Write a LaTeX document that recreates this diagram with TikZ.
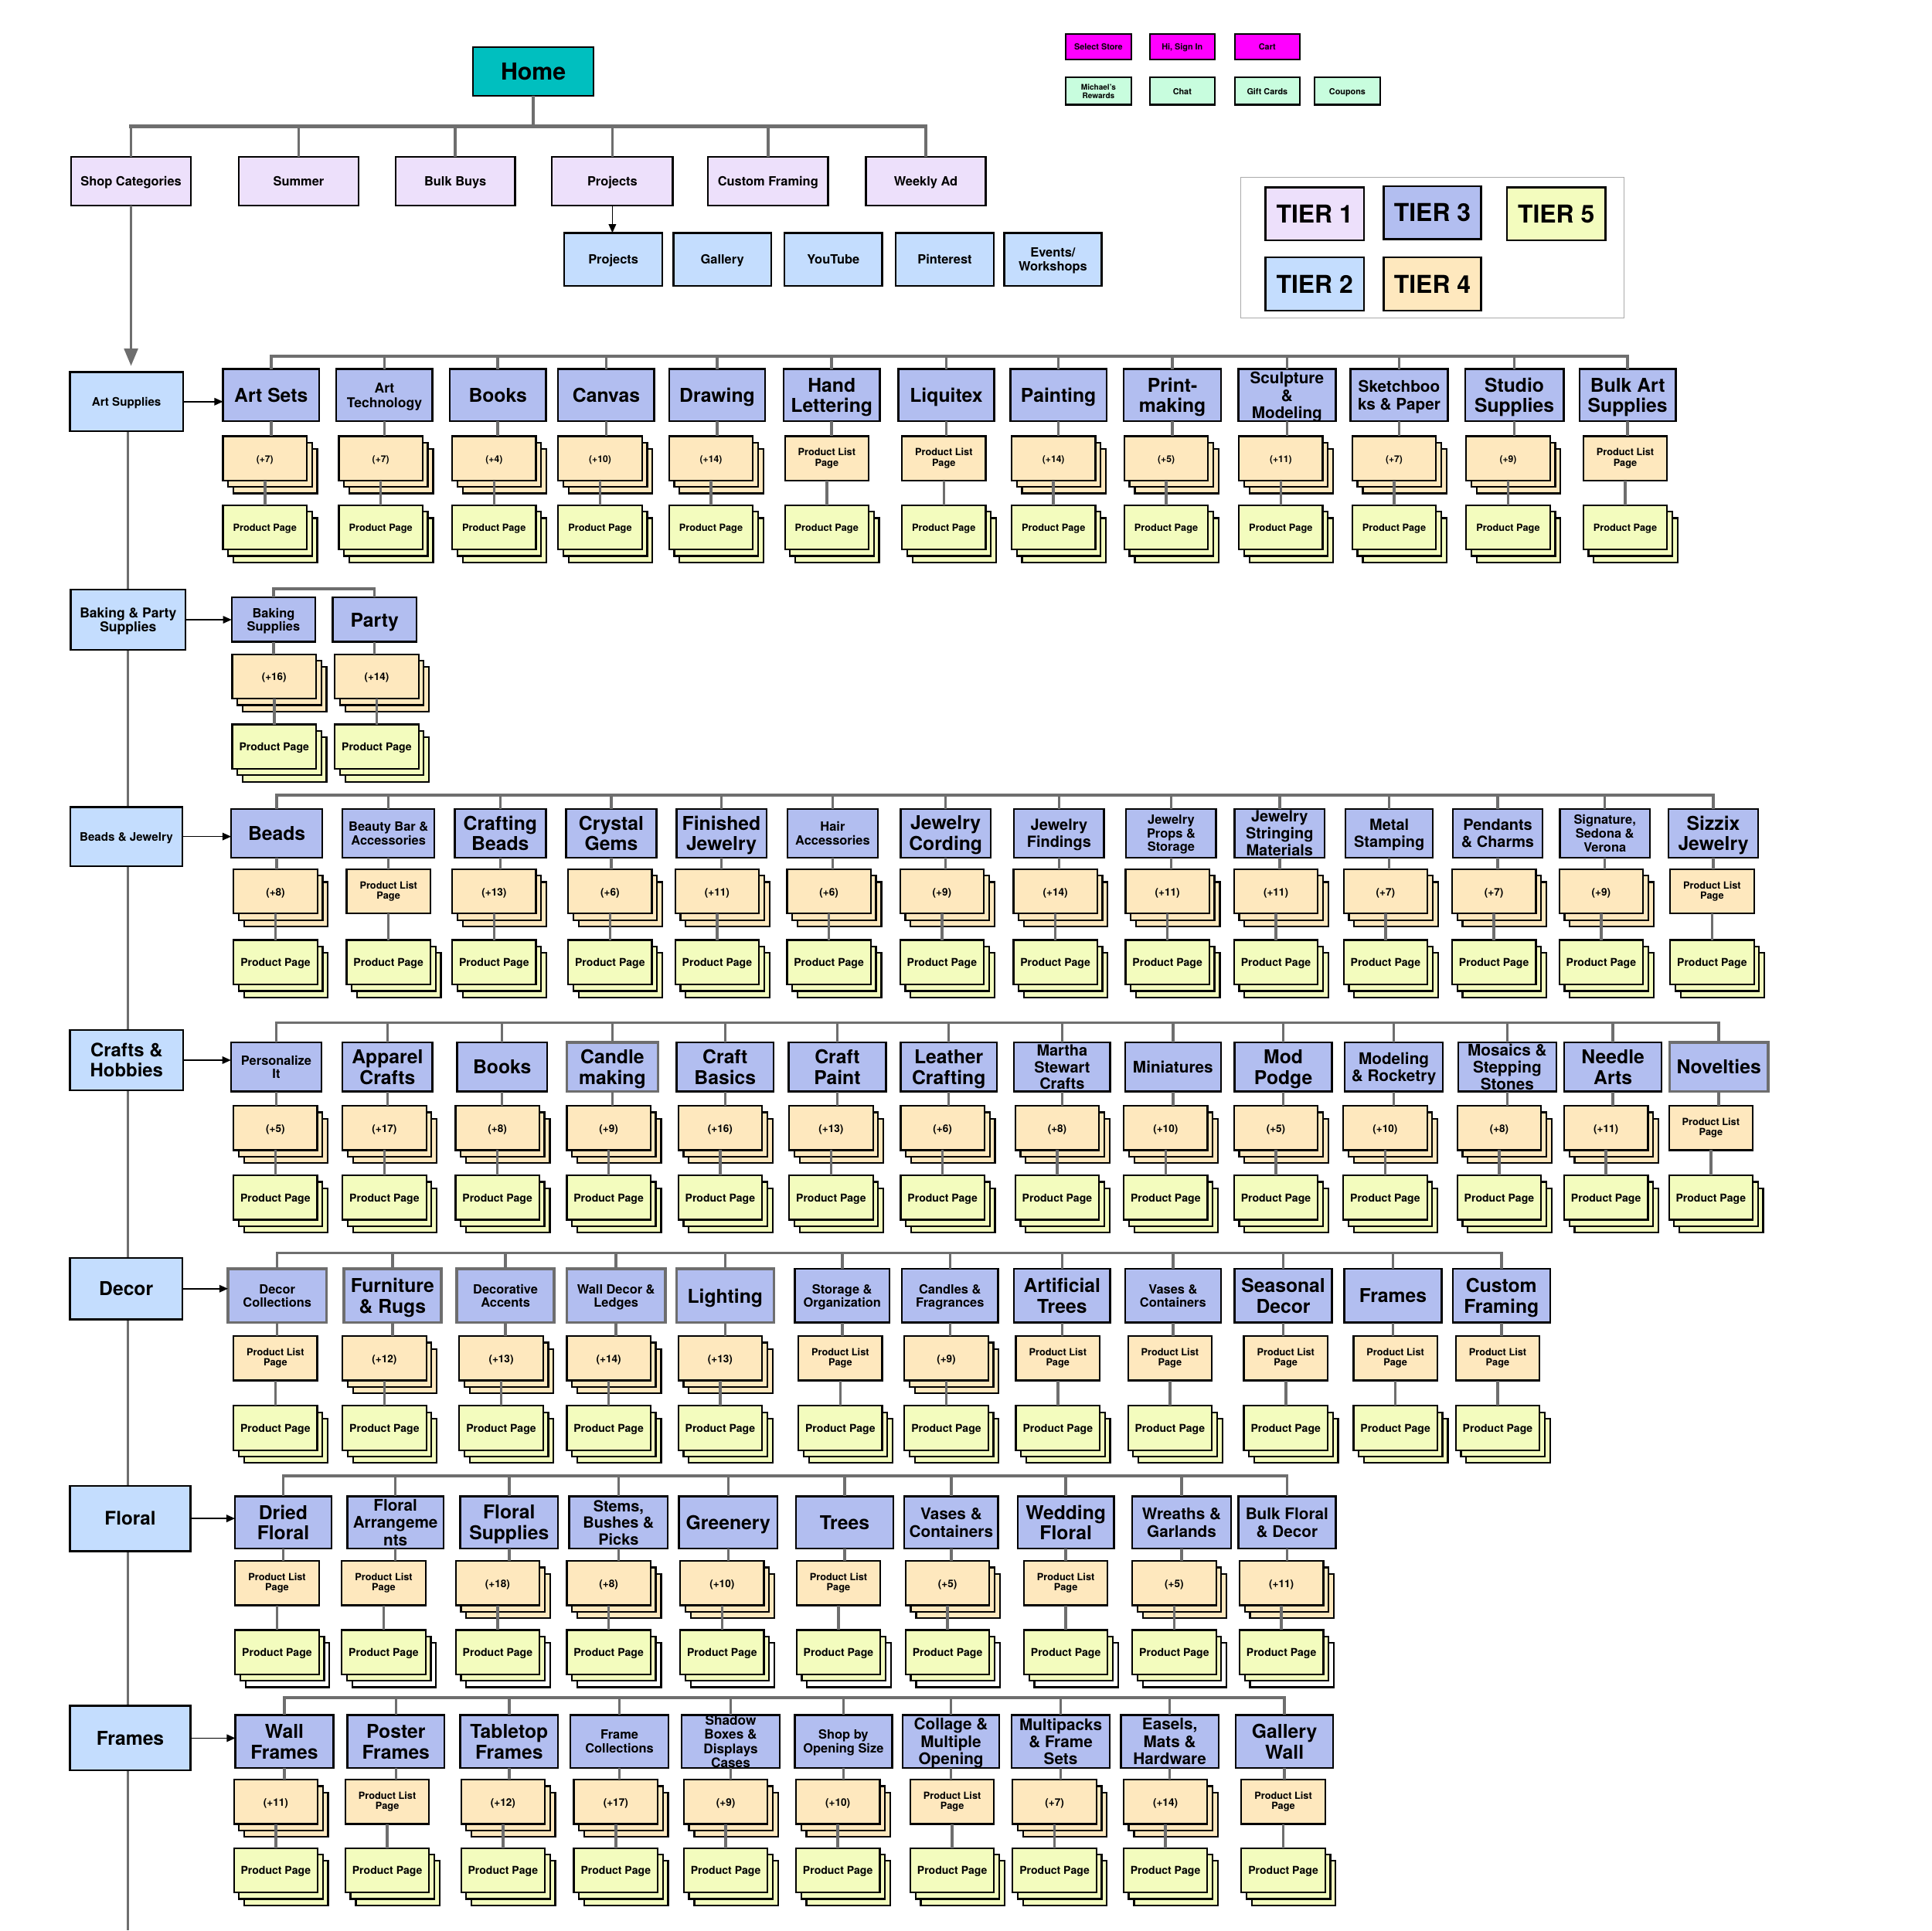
\documentclass[tikz,border=0pt]{standalone}
\usepackage{fontspec}
\setmainfont{TeX Gyre Heros}
\usetikzlibrary{arrows.meta,calc}
\pgfdeclarelayer{background}
\pgfsetlayers{background,main}
\definecolor{tealA}{RGB}{0,191,191}
\definecolor{lav}{RGB}{237,224,251}
\definecolor{lblue}{RGB}{196,221,254}
\definecolor{peri}{RGB}{178,190,240}
\definecolor{peach}{RGB}{254,232,190}
\definecolor{yel}{RGB}{243,252,190}
\definecolor{mint}{RGB}{200,253,222}
\definecolor{mag}{RGB}{255,0,255}
\definecolor{conn}{RGB}{110,110,110}
\definecolor{lgdgray}{RGB}{170,170,170}
\tikzset{
  box/.style={draw=black, line width=1.5pt, inner sep=0pt, outer sep=0pt},
  gbox/.style={draw=conn, line width=2.2pt, inner sep=0pt, outer sep=0pt},
  sbox/.style={draw=black, line width=1.3pt, inner sep=0pt, outer sep=0pt},
  lgd/.style={draw=lgdgray, line width=1pt, inner sep=0pt, outer sep=0pt},
  txt/.style={inner sep=0pt, outer sep=0pt, align=center, text=black},
  card/.style={draw=black, line width=1.4pt, inner sep=0pt, outer sep=0pt,
    minimum width=68pt, minimum height=36pt, align=center, text=black},
  link/.style={draw=conn, line width=2.2pt},
  barline/.style={draw=conn, line width=2.2pt, line cap=rect},
  spine/.style={draw=conn, line width=2pt},
  blk/.style={draw=black, line width=1pt, -{Triangle[length=7pt,width=6pt]}},
}
\newcommand\mkbox[9]{%
  \pgfmathsetmacro\bw{#6-#4}%
  \pgfmathsetmacro\bh{#7-#5}%
  \pgfmathsetmacro\bcx{(#4+#6)/2}%
  \pgfmathsetmacro\bcy{(#5+#7)/2}%
  \node[#2, fill=#3, minimum width=\bw pt, minimum height=\bh pt] (#1) at (\bcx,\bcy) {};%
  \pgfmathsetmacro\bs{1.08*#8}%
  \pgfmathsetmacro\ys{-0.11*#8}%
  \node[txt, yshift=\ys pt, font=\bfseries\fontsize{#8}{\bs}\selectfont] (#1t) at (#1.center) {#9\rule[-0.22em]{0pt}{0pt}};%
}
\newcommand\stk[7]{%
  \node[card, fill=#5] (#1b2) at ({#2+8.5},{#3+28.5}) {};%
  \node[card, fill=#4] (#1b1) at ({#2+4.2},{#3+23.3}) {};%
  \node[card, fill=#4, text height=0.7em, text depth=0pt,
        font=\bfseries\fontsize{#6}{#6}\selectfont] (#1) at (#2,{#3+18}) {#7};%
}
\newcommand\sgl[6]{%
  \node[card, fill=#4, font=\bfseries\fontsize{#5}{8.4}\selectfont] (#1) at (#2,{#3+18}) {#6};%
}
% #1 row, #2 box top, #3 box bottom, #4 bar y, #5 tier4 top, #6 tier5 top, #7 tier5 back fill, #8 list
\newcommand\dorow[8]{%
  \coordinate (bar#1) at (0,#4);
  \foreach \xl/\xr/\fs/\lab/\tf/\dx/\md/\bst [count=\i] in {#8} {
    \mkbox{r#1c\i}{\bst}{peri}{\xl}{#2}{\xr}{#3}{\fs}{\lab}
    \pgfmathsetmacro\cx{(\xl+\xr)/2+\dx}
    \ifnum\md=1
      \stk{r#1c\i f}{\cx}{#5}{peach}{peach}{\cfs}{\tf}
    \else
      \sgl{r#1c\i f}{\cx}{#5}{peach}{8}{Product List\\Page}
    \fi
    \stk{r#1c\i p}{\cx}{#6}{yel}{#7}{\pfs}{Product Page}
    \draw[link] (r#1c\i.north |- bar#1) -- (r#1c\i.north);
    \draw[link] (r#1c\i.south) -- (r#1c\i.south |- r#1c\i f.north);
    \draw[link] (r#1c\i f.south) -- (r#1c\i p.north);
    \xdef\lastcol{\i}
  }
  \draw[barline] (r#1c1.north |- bar#1) -- (r#1c\lastcol.north |- bar#1);
}
\begin{document}
\begin{tikzpicture}[x=1pt,y=-1pt]
\useasboundingbox (0,0) rectangle (1568,1566.75);
\coordinate (spbot) at (104,1567);
\coordinate (tb) at (0,102.5);

% ---------- top ----------
\mkbox{home}{box}{tealA}{384}{38.3}{481.7}{77.8}{19}{Home}
\mkbox{sc}{box}{lav}{57.7}{127.5}{155}{167}{10.3}{Shop Categories}
\mkbox{sum}{box}{lav}{193.8}{127.5}{291}{167}{10.3}{Summer}
\mkbox{bb}{box}{lav}{321}{127.5}{418}{167}{10.3}{Bulk Buys}
\mkbox{pj}{box}{lav}{448}{127.5}{546}{167}{10.3}{Projects}
\mkbox{cf}{box}{lav}{574.6}{127.5}{672}{167}{10.3}{Custom Framing}
\mkbox{wa}{box}{lav}{702.8}{127.5}{800}{167}{10.3}{Weekly Ad}

\mkbox{pj2}{box}{lblue}{458}{189}{537.6}{232}{10.3}{Projects}
\mkbox{gal}{box}{lblue}{546.5}{189}{626}{232}{10.3}{Gallery}
\mkbox{yt}{box}{lblue}{636.7}{189}{716}{232}{10.3}{YouTube}
\mkbox{pin}{box}{lblue}{727}{189}{806.5}{232}{10.3}{Pinterest}
\mkbox{ev}{box}{lblue}{815}{189}{894}{232}{10.3}{Events/\\Workshops}

\draw[link] (home.south) -- (home.south |- tb);
\draw[barline, line width=3pt] (sc.north |- tb) -- (wa.north |- tb);
\foreach \n in {sc,sum,bb,pj,cf,wa} { \draw[link] (\n.north |- tb) -- (\n.north); }
\draw[blk] (pj.south) -- (pj.south |- pj2.north);

% utility buttons
\mkbox{ss}{sbox}{mag}{865}{27.5}{918}{48}{6.8}{Select Store}
\mkbox{hi}{sbox}{mag}{933}{27.5}{986}{48}{6.8}{Hi, Sign In}
\mkbox{cart}{sbox}{mag}{1002}{27.5}{1055}{48}{6.8}{Cart}
\mkbox{mr}{sbox}{mint}{865}{63}{918}{85}{6.3}{Michael's\\Rewards}
\mkbox{chat}{sbox}{mint}{933}{63}{986}{85}{6.8}{Chat}
\mkbox{gc}{sbox}{mint}{1002}{63}{1055}{85}{6.8}{Gift Cards}
\mkbox{cp}{sbox}{mint}{1067}{63}{1120}{85}{6.8}{Coupons}

% legend
\node[lgd, minimum width=311pt, minimum height=114pt] (legend) at (1162.5,201) {};
\mkbox{t1}{box}{lav}{1027}{152}{1107}{195}{20}{TIER 1}
\mkbox{t3}{box}{peri}{1123}{151}{1202}{194}{20}{TIER 3}
\mkbox{t5}{box}{yel}{1223}{152}{1303}{195}{20}{TIER 5}
\mkbox{t2}{box}{lblue}{1027}{209}{1107}{252}{20}{TIER 2}
\mkbox{t4}{box}{peach}{1123}{209}{1202}{252}{20}{TIER 4}

% ---------- left column ----------
\mkbox{AS}{box}{lblue}{56.7}{302}{148.5}{350}{9.5}{Art Supplies}
\mkbox{BP}{box}{lblue}{57.5}{478.5}{150.5}{527.5}{11}{Baking \& Party\\Supplies}
\mkbox{BJ}{box}{lblue}{57}{655}{148}{703}{9.5}{Beads \& Jewelry}
\mkbox{CH}{box}{lblue}{56.8}{836}{148.7}{885}{15}{Crafts \&\\Hobbies}
\mkbox{DE}{box}{lblue}{56.7}{1021}{148}{1071}{15.5}{Decor}
\mkbox{FL}{box}{lblue}{56.7}{1206}{154.7}{1259}{15.2}{Floral}
\mkbox{FR}{box}{lblue}{56.7}{1384.6}{154.7}{1437}{15.5}{Frames}

\begin{pgfonlayer}{background}
\fill[white] (0,0) rectangle (1568,1566.75);
\draw[spine] (spbot |- AS.south) -- (spbot);
\end{pgfonlayer}

\draw[link, -{Triangle[length=14pt,width=11pt]}, shorten >=5pt] (sc.south) -- (sc.south |- AS.north);

% ---------- rows ----------
\def\cfs{7.6}\def\pfs{8}
\dorow{1}{299.5}{342}{289}{354}{410}{yel}{
181/259/15.5/{Art Sets}/{(+7)}/-5/1/box,
273/351/11/{Art\\Technology}/{(+7)}/-3/1/box,
365/443/15.5/{Books}/{(+4)}/-3/1/box,
453/531/15.5/{Canvas}/{(+10)}/-5/1/box,
543/621/15.5/{Drawing}/{(+14)}/-5/1/box,
636/714/15.5/{Hand\\Lettering}/{-}/-4/0/box,
729/807/15.5/{Liquitex}/{-}/-2/0/box,
820/898/15.5/{Painting}/{(+14)}/-4/1/box,
912/991/15.5/{Print-\\making}/{(+5)}/-5/1/box,
1005/1084/13/{Sculpture\\\&\\Modeling}/{(+11)}/-5/1/box,
1096/1175/13/{Sketchboo\\ks \& Paper}/{(+7)}/-4/1/box,
1189/1269/15.5/{Studio\\Supplies}/{(+9)}/-5/1/box,
1282/1360/15.5/{Bulk Art\\Supplies}/{-}/-2/0/box}

\def\cfs{8.4}\def\pfs{8.8}
\dorow{2}{485}{521}{478}{531}{588}{yel}{
188/256/10.3/{Baking\\Supplies}/{(+16)}/0.5/1/box,
270/338/15.5/{Party}/{(+14)}/1.7/1/box}

\def\cfs{8.5}
\dorow{3}{656.5}{696}{645.5}{705.5}{763}{yel}{
187.6/261.6/15.5/{Beads}/{(+8)}/-1/1/box,
278/352.6/10.3/{Beauty Bar \&\\Accessories}/{-}/0/0/box,
369/443/15.5/{Crafting\\Beads}/{(+13)}/-5/1/box,
459.5/532.7/15.5/{Crystal\\Gems}/{(+6)}/-1/1/box,
549/622/15.5/{Finished\\Jewelry}/{(+11)}/-3.5/1/box,
639/712.5/10.3/{Hair\\Accessories}/{(+6)}/-3/1/box,
731/804/15.5/{Jewelry\\Cording}/{(+9)}/-3/1/box,
823/896/12.5/{Jewelry\\Findings}/{(+14)}/-3/1/box,
914/987/10.3/{Jewelry\\Props \&\\Storage}/{(+11)}/-3/1/box,
1002/1075/12.5/{Jewelry\\Stringing\\Materials}/{(+11)}/-3/1/box,
1092/1163/12.5/{Metal\\Stamping}/{(+7)}/-3/1/box,
1179/1252/12.5/{Pendants\\\& Charms}/{(+7)}/-3/1/box,
1266/1339/10.3/{Signature,\\Sedona \&\\Verona}/{(+9)}/-3/1/box,
1354/1427/15.5/{Sizzix\\Jewelry}/{-}/-1/0/box}

\dorow{4}{846}{886}{830}{897.5}{954}{yel}{
187.4/261/10.3/{Personalize\\It}/{(+5)}/-0.7/1/box,
278/351/15.5/{Apparel\\Crafts}/{(+17)}/-2.5/1/box,
371/444/15.5/{Books}/{(+8)}/-3.8/1/box,
460/534/15.5/{Candle\\making}/{(+9)}/-3/1/gbox,
549/628/15.5/{Craft\\Basics}/{(+16)}/-4/1/box,
640/719/15.5/{Craft\\Paint}/{(+13)}/-5/1/box,
731/809/15.5/{Leather\\Crafting}/{(+6)}/-5/1/box,
823/901/12.5/{Martha\\Stewart\\Crafts}/{(+8)}/-4/1/box,
913/991/13/{Miniatures}/{(+10)}/-6/1/box,
1002/1081/15.5/{Mod\\Podge}/{(+5)}/-6/1/box,
1091.4/1171/13/{Modeling\\\& Rocketry}/{(+10)}/-7/1/box,
1183.5/1263/13/{Mosaics \&\\Stepping\\Stones}/{(+8)}/-6.5/1/box,
1269.6/1348.5/15.5/{Needle\\Arts}/{(+11)}/-5.6/1/box,
1355/1435/15.5/{Novelties}/{-}/-6.5/0/gbox}

\dorow{5}{1030}{1073.5}{1017}{1084.5}{1141}{yel}{
185/265/10.3/{Decor\\Collections}/{-}/-1.5/0/gbox,
279/358/15.5/{Furniture\\\& Rugs}/{(+12)}/-6.5/1/gbox,
370.7/449.8/10.3/{Decorative\\Accents}/{(+13)}/-3.5/1/gbox,
460/540/10.3/{Wall Decor \&\\Ledges}/{(+14)}/-6/1/gbox,
549/628/15.5/{Lighting}/{(+13)}/-4/1/gbox,
645/722/10.3/{Storage \&\\Organization}/{-}/-1.5/0/box,
732/810/10.3/{Candles \&\\Fragrances}/{(+9)}/-3/1/box,
823/901/15.5/{Artificial\\Trees}/{-}/-3.5/0/box,
913/991/10.3/{Vases \&\\Containers}/{-}/-2.5/0/box,
1002/1081/15.5/{Seasonal\\Decor}/{-}/2/0/box,
1091/1170/15.5/{Frames}/{-}/2/0/box,
1179/1258/15.5/{Custom\\Framing}/{-}/-3/0/box}

\dorow{6}{1214.5}{1257}{1198}{1267}{1323}{white}{
190.7/269/15.5/{Dried\\Floral}/{-}/-5/0/box,
281.8/360/13/{Floral\\Arrangeme\\nts}/{-}/-9.5/0/box,
373.6/452.8/15.5/{Floral\\Supplies}/{(+18)}/-9.3/1/box,
462/542/12.5/{Stems,\\Bushes \&\\Picks}/{(+8)}/-8/1/box,
551/631/15.5/{Greenery}/{(+10)}/-5/1/box,
646/725/15.5/{Trees}/{-}/-5/0/box,
734/810/13/{Vases \&\\Containers}/{(+5)}/-3/1/box,
826/904/15.5/{Wedding\\Floral}/{-}/0/0/box,
919/999/13/{Wreaths \&\\Garlands}/{(+5)}/-6/1/box,
1005/1084/13/{Bulk Floral\\\& Decor}/{(+11)}/-4.5/1/box}

\dorow{7}{1392}{1435}{1378}{1444.5}{1500}{yel}{
191/270.6/15.5/{Wall\\Frames}/{(+11)}/-7/1/box,
282/360.6/15.5/{Poster\\Frames}/{-}/-7/0/box,
373.6/452.8/15.5/{Tabletop\\Frames}/{(+12)}/-5/1/box,
463/542.5/10.3/{Frame\\Collections}/{(+17)}/-3/1/box,
553/633/10.8/{Shadow\\Boxes \&\\Displays\\Cases}/{(+9)}/-4/1/box,
645/724/10.3/{Shop by\\Opening Size}/{(+10)}/-4.5/1/box,
732.6/811/13/{Collage \&\\Multiple\\Opening}/{-}/1/0/box,
821/900.7/13/{Multipacks\\\& Frame\\Sets}/{(+7)}/-5/1/box,
909.7/989/13/{Easels,\\Mats \&\\Hardware}/{(+14)}/-3.5/1/box,
1003/1082/15.5/{Gallery\\Wall}/{-}/-1/0/box}

% ---------- arrows from categories ----------
\draw[blk] (AS.east) -- (AS.east -| r1c1.west);
\draw[blk] (BP.east) -- (BP.east -| r2c1.west);
\draw[blk] (BJ.east) -- (BJ.east -| r3c1.west);
\draw[blk] (CH.east) -- (CH.east -| r4c1.west);
\draw[blk] (DE.east) -- (DE.east -| r5c1.west);
\draw[blk] (FL.east) -- (FL.east -| r6c1.west);
\draw[blk] (FR.east) -- (FR.east -| r7c1.west);
\end{tikzpicture}
\end{document}
